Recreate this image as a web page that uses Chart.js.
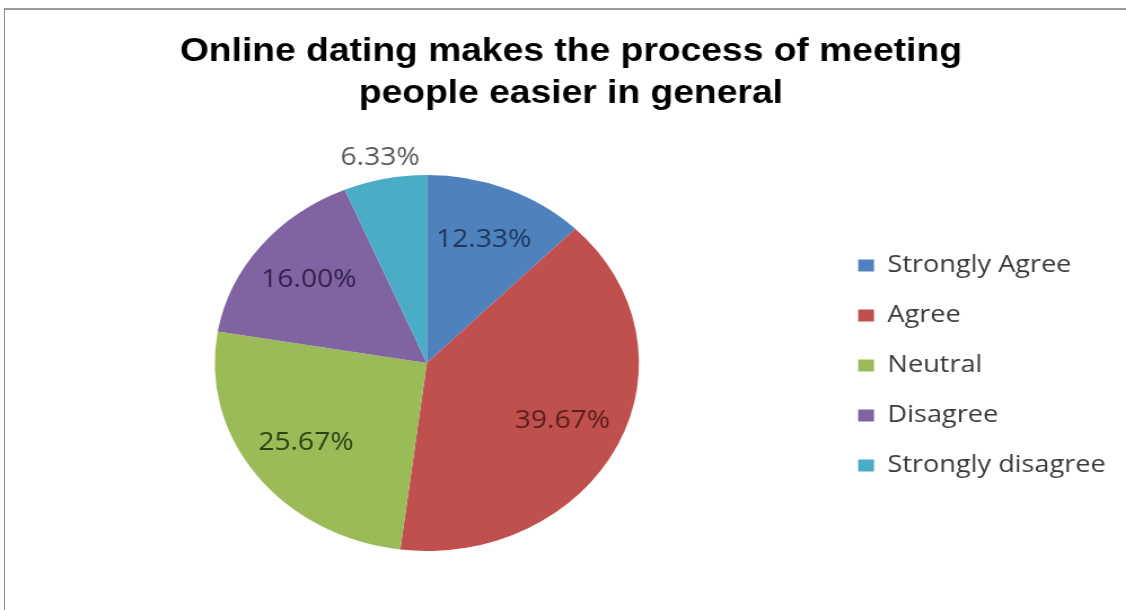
<!DOCTYPE html>
<html>
<head>
<meta charset="utf-8">
<script src="https://cdn.jsdelivr.net/npm/chart.js@4"></script>
<style>
  html, body { margin: 0; padding: 0; background: #fff; overflow: hidden; }
  .frame { position: absolute; left: 4px; top: 8px; width: 1300px; height: 800px;
           border-left: 1px solid #8a8a8a; border-top: 2px solid #9a9a9a; }
  .wrap { position: absolute; left: 0; top: 0; width: 998px; height: 610px;
          transform: scaleX(1.1283); transform-origin: 0 0; }
</style>
</head>
<body>
<div class="frame"></div>
<div class="wrap"><canvas id="myChart" width="998" height="610"></canvas></div>
<script>
let title_lines = ['Online dating makes the process of meeting', 'people easier in general']
let categories = ['Strongly Agree', 'Agree', 'Neutral', 'Disagree', 'Strongly disagree']
let percents = [12.33, 39.67, 25.67, 16.00, 6.33]
let slice_colors = ['#4f81bd', '#c0504d', '#9bbb59', '#8064a2', '#4bacc6']
let label_colors = ['#1f3760', '#5a1e1c', '#2c4213', '#30204c', '#595959']

const legendSize = 24
const legendFont = legendSize + 'px "Open Sans"'
const labelFont = '25px "Open Sans"'

// measure widest legend entry so the legend lands where the original has it
let mctx = document.createElement('canvas').getContext('2d')
mctx.font = legendFont
let widest = Math.max(...categories.map(c => mctx.measureText(c).width))
let legendW = 10 + 14 + legendSize / 2 + widest + 10
let padRight = Math.max(0, 998 - 750.6 - legendW)

const pieLabels = {
    id: 'pieLabels',
    afterDatasetsDraw: (chart) => {
        const {ctx} = chart
        const arcs = chart.getDatasetMeta(0).data
        ctx.save()
        ctx.font = labelFont
        ctx.textAlign = 'center'
        ctx.textBaseline = 'middle'
        arcs.forEach((arc, i) => {
            const p = arc.getProps(['x', 'y', 'startAngle', 'endAngle', 'outerRadius'], true)
            const mid = (p.startAngle + p.endAngle) / 2
            const r = percents[i] < 10 ? p.outerRadius * 1.115 : p.outerRadius * 0.71
            ctx.fillStyle = label_colors[i]
            ctx.fillText(percents[i].toFixed(2) + '%', p.x + Math.cos(mid) * r, p.y + Math.sin(mid) * r)
        })
        ctx.restore()
    }
}

const ctx = document.getElementById('myChart')
new Chart(ctx, {
    type: 'pie',
    plugins: [pieLabels],
    data: {
        labels: categories,
        datasets: [{
            data: percents,
            backgroundColor: slice_colors,
            borderWidth: 0
        }]
    },
    options: {
        responsive: false,
        animation: false,
        layout: { padding: { left: 22, right: padRight, top: 0, bottom: 59 } },
        plugins: {
            tooltip: { enabled: false },
            title: {
                display: true,
                text: title_lines,
                color: '#000',
                font: { family: '"Liberation Sans", Arial, sans-serif', size: 33, weight: 'bold', lineHeight: 1.2727 },
                padding: { top: 31, bottom: 60 }
            },
            legend: {
                position: 'right',
                title: { display: true, text: ' ', font: { size: 10, lineHeight: 1.2 }, padding: { top: 168, bottom: 0 } },
                labels: {
                    boxWidth: 14,
                    boxHeight: 12,
                    padding: 26,
                    color: '#3a3a3a',
                    font: { family: '"Open Sans"', size: legendSize }
                }
            }
        }
    }
})
</script>
</body>
</html>
